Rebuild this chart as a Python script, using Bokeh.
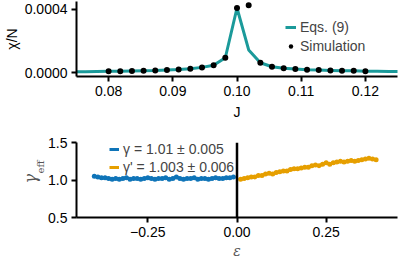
from bokeh.plotting import figure
from bokeh.layouts import column
from bokeh.models import (Range1d, FixedTicker, NumeralTickFormatter, CustomJSTickFormatter,
                          Legend, LegendItem, Span, Title)
from bokeh.embed import file_html
from bokeh.resources import INLINE

# ---------------- data ----------------
J_sim = [0.08, 0.08182, 0.08364, 0.08545, 0.08727, 0.08909, 0.09091, 0.09273, 0.09455,
         0.09636, 0.09818, 0.10, 0.10182, 0.10364, 0.10545, 0.10727, 0.10909, 0.11091,
         0.11273, 0.11455, 0.11636, 0.11818, 0.12]
chi_sim = [8e-6, 8e-6, 1.0e-5, 1.2e-5, 1.4e-5, 1.7e-5, 2.0e-5, 2.5e-5, 3.3e-5,
           4.7e-5, 9.4e-5, 4.08e-4, 4.25e-4, 6.2e-5, 3.7e-5, 2.7e-5, 2.2e-5, 1.8e-5,
           1.6e-5, 1.4e-5, 1.2e-5, 1.1e-5, 9e-6]
J_theory = [0.07455, 0.07636, 0.07818, 0.08, 0.08182, 0.08364, 0.08545, 0.08727, 0.08909,
            0.09091, 0.09273, 0.09455, 0.09636, 0.09818, 0.10, 0.10182, 0.10364, 0.10545,
            0.10727, 0.10909, 0.11091, 0.11273, 0.11455, 0.11636, 0.11818, 0.12, 0.12182,
            0.12364, 0.12545]
chi_theory = [5e-6, 6e-6, 7e-6, 8e-6, 8e-6, 1.0e-5, 1.2e-5, 1.4e-5, 1.7e-5,
              2.0e-5, 2.5e-5, 3.3e-5, 4.7e-5, 9.4e-5, 4.08e-4, 1.43e-4, 6.2e-5, 3.7e-5,
              2.7e-5, 2.2e-5, 1.8e-5, 1.6e-5, 1.4e-5, 1.2e-5, 1.1e-5, 9e-6, 8e-6,
              7e-6, 7e-6]

eps_neg = [-0.40, -0.39, -0.38, -0.37, -0.36, -0.35, -0.34, -0.33, -0.32, -0.31,
           -0.30, -0.29, -0.28, -0.27, -0.26, -0.25, -0.24, -0.23, -0.22, -0.21,
           -0.20, -0.19, -0.18, -0.17, -0.16, -0.15, -0.14, -0.13, -0.12, -0.11,
           -0.10, -0.09, -0.08, -0.07, -0.06, -0.05, -0.04, -0.03, -0.02, -0.01]
gamma_neg = [1.05, 1.04, 1.03, 1.03, 1.02, 1.01, 1.02, 1.01, 1.02, 1.03,
             1.01, 1.02, 1.02, 1.01, 1.02, 1.03, 1.02, 1.01, 1.02, 1.02,
             1.03, 1.01, 1.02, 1.04, 1.02, 1.01, 1.02, 1.02, 1.03, 1.01,
             1.02, 1.02, 1.01, 1.02, 1.03, 1.02, 1.02, 1.03, 1.03, 1.04]
eps_pos = [0.01, 0.02, 0.03, 0.04, 0.05, 0.06, 0.07, 0.08, 0.09, 0.10,
           0.11, 0.12, 0.13, 0.14, 0.15, 0.16, 0.17, 0.18, 0.19, 0.20,
           0.21, 0.22, 0.23, 0.24, 0.25, 0.26, 0.27, 0.28, 0.29, 0.30,
           0.31, 0.32, 0.33, 0.34, 0.35, 0.36, 0.37, 0.38, 0.39]
gamma_pos = [1.01, 1.02, 1.03, 1.04, 1.04, 1.06, 1.06, 1.08, 1.09, 1.08,
             1.10, 1.11, 1.12, 1.12, 1.14, 1.15, 1.15, 1.16, 1.17, 1.17,
             1.19, 1.20, 1.19, 1.21, 1.23, 1.21, 1.23, 1.24, 1.25, 1.24,
             1.25, 1.26, 1.25, 1.26, 1.27, 1.28, 1.29, 1.28, 1.27]

top_xticks = [0.08, 0.09, 0.10, 0.11, 0.12]
top_yticks = [0.0, 0.0004]
bot_xticks = [-0.25, 0.0, 0.25]
bot_yticks = [0.5, 1.0, 1.5]
legend_top = ["Eqs. (9)", "Simulation"]
legend_bot = ["γ = 1.01 ± 0.005", "γ' = 1.003 ± 0.006"]

TEAL = "#1b9a9a"
BLUE = "#0f74b8"
ORANGE = "#e69f00"
FONT = "Liberation Sans"


def style_axes(p):
    p.outline_line_color = None
    p.xgrid.visible = False
    p.ygrid.visible = False
    for ax in (p.xaxis[0], p.yaxis[0]):
        ax.axis_line_width = 2
        ax.axis_line_color = "black"
        ax.major_tick_line_width = 2
        ax.major_tick_out = 5
        ax.major_tick_in = 0
        ax.minor_tick_line_color = None
        ax.major_label_text_font = FONT
        ax.major_label_text_font_size = "14px"
        ax.major_label_text_color = "black"
        ax.major_label_standoff = 4
        ax.axis_label_text_font = FONT
        ax.axis_label_text_font_size = "14px"
        ax.axis_label_text_font_style = "normal"
        ax.axis_label_text_color = "black"


# ---------------- top ----------------
p1 = figure(width=399, height=124, output_backend="svg", toolbar_location=None,
            x_range=Range1d(0.075, 0.125), y_range=Range1d(-0.0000246, 0.000449),
            min_border_left=72, min_border_right=2, min_border_top=1, min_border_bottom=48)
style_axes(p1)
p1.xaxis.ticker = FixedTicker(ticks=top_xticks)
p1.yaxis.ticker = FixedTicker(ticks=top_yticks)
p1.xaxis.formatter = NumeralTickFormatter(format="0.00")
p1.yaxis.formatter = NumeralTickFormatter(format="0.0000")
p1.xaxis.axis_label = "J"
p1.xaxis.axis_label_standoff = 5
p1.yaxis.axis_label = "χ/N"
p1.yaxis.axis_label_standoff = 2

r_line = p1.line(J_theory, chi_theory, line_color=TEAL, line_width=3)
r_dots = p1.scatter(J_sim, chi_sim, size=6, fill_color="black", line_color=None)

leg1 = Legend(items=[LegendItem(label=legend_top[0], renderers=[r_line]),
                     LegendItem(label=legend_top[1], renderers=[r_dots])],
              location=(209, 22), orientation="vertical",
              label_text_font=FONT, label_text_font_size="14px",
              glyph_width=11, glyph_height=14, label_height=14, spacing=3,
              label_standoff=4, padding=0, margin=0,
              border_line_color=None, background_fill_alpha=0)
p1.add_layout(leg1)

# ---------------- bottom ----------------
p2 = figure(width=399, height=137, output_backend="svg", toolbar_location=None,
            x_range=Range1d(-0.45, 0.45), y_range=Range1d(0.5, 1.5),
            min_border_left=72, min_border_right=2, min_border_top=18, min_border_bottom=43)
style_axes(p2)
p2.xaxis.ticker = FixedTicker(ticks=bot_xticks)
p2.yaxis.ticker = FixedTicker(ticks=bot_yticks)
p2.xaxis.formatter = CustomJSTickFormatter(
    code="return (tick < 0 ? '\\u2212' : '') + Math.abs(tick).toFixed(2);")
p2.yaxis.formatter = NumeralTickFormatter(format="0.0")
p2.xaxis.axis_label = "ε"
p2.xaxis.axis_label_text_font = "DejaVu Serif"
p2.xaxis.axis_label_text_font_style = "italic"
p2.xaxis.axis_label_text_color = "#555555"
p2.xaxis.axis_label_standoff = 3

p2.add_layout(Span(location=0, dimension="height", line_color="black", line_width=2.5))

rb_line = p2.line(eps_neg, gamma_neg, line_color=BLUE, line_width=3)
p2.scatter(eps_neg, gamma_neg, size=5, fill_color=BLUE, line_color=None)
ro_line = p2.line(eps_pos, gamma_pos, line_color=ORANGE, line_width=3)
p2.scatter(eps_pos, gamma_pos, size=5, fill_color=ORANGE, line_color=None)

leg2 = Legend(items=[LegendItem(label=legend_bot[0], renderers=[rb_line]),
                     LegendItem(label=legend_bot[1], renderers=[ro_line])],
              location=(33, 42), orientation="vertical",
              label_text_font=FONT, label_text_font_size="14px",
              glyph_width=10, glyph_height=14, label_height=14, spacing=2,
              label_standoff=4, padding=0, margin=0,
              border_line_color=None, background_fill_alpha=0)
p2.add_layout(leg2)

# y label "γ_eff" built from two rotated titles on the left side
t_eff = Title(text="eff", align="left", offset=44, standoff=0,
              text_font="DejaVu Serif", text_font_size="10px", text_font_style="normal",
              text_color="#555555")
t_gam = Title(text="γ", align="left", offset=34, standoff=-14,
              text_font="DejaVu Serif", text_font_size="16px", text_font_style="italic",
              text_color="#555555")
p2.add_layout(t_eff, "left")
p2.add_layout(t_gam, "left")

layout = column(p1, p2, spacing=0)
open("out.html", "w").write(file_html(layout, INLINE))
